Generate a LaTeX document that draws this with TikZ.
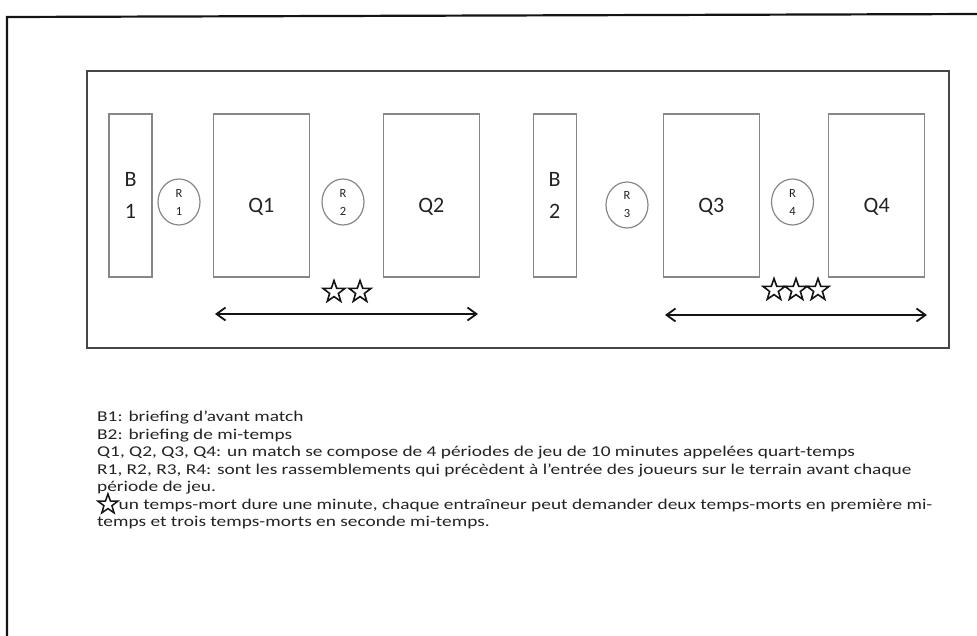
\documentclass[tikz,border=0pt]{standalone}
\usepackage{fontspec}
\setmainfont{Carlito}
\newfontfamily\keyfont{Carlito}[FakeStretch=1.29]
\usetikzlibrary{arrows.meta,shapes.geometric}
\definecolor{ink}{RGB}{20,20,20}
\definecolor{txt}{RGB}{35,35,35}
\definecolor{frame}{RGB}{70,70,70}
\definecolor{boxline}{RGB}{135,135,135}

\begin{document}
\begin{tikzpicture}[
  x=1pt, y=-1pt,
  font=\fontsize{22}{32}\selectfont,
  period/.style={draw=boxline, line width=1.3pt, minimum height=163pt, inner sep=0pt, align=center,
    text=txt, execute at begin node={\rule{0pt}{36pt}}},
  quarter/.style={period, minimum width=96pt},
  brief/.style={period, minimum width=43pt},
  gather/.style={ellipse, draw=boxline, line width=1.2pt, minimum width=42pt, minimum height=46pt, inner sep=0pt,
    align=center, text=txt, font=\fontsize{12.5}{18}\selectfont},
  pause/.style={star, star points=5, star point ratio=2.5, draw=ink, fill=white, line width=1.6pt, minimum size=23pt, inner sep=0pt},
  span/.style={{Straight Barb[length=9pt,width=13pt]}-{Straight Barb[length=9pt,width=13pt]}, line width=1.8pt, draw=ink},
  legend/.style={anchor=north west, align=left, inner sep=0pt, text=txt, font=\keyfont\fontsize{15}{17.5}\selectfont},
]
\useasboundingbox (0,0) rectangle (977,635);
% ---------------------------------------------------------------- frames
\draw[ink, line width=2.2pt] (7,640) -- (7,17) -- (980,14);
\draw[frame, line width=1.8pt] (87,71) rectangle (949,348);

% ---------------------------------------------------------------- periods
\node[brief]   (B1) at (130.5,195.5) {B\\1};
\node[gather]  (R1) at (179,202) {R\\1};
\node[quarter] (Q1) at (261.3,195.5) {Q1};
\node[gather]  (R2) at (343,202) {R\\2};
\node[quarter] (Q2) at (431.3,195.5) {Q2};

\node[brief]   (B2) at (554.7,195.5) {B\\2};
\node[gather]  (R3) at (627,205) {R\\3};
\node[quarter] (Q3) at (711.3,195.5) {Q3};
\node[gather]  (R4) at (792.5,202) {R\\4};
\node[quarter] (Q4) at (876.7,195.5) {Q4};

% ---------------------------------------------------------------- time-outs
\node[pause] (t1) at (334,292) {};
\node[pause] (t2) at (360,292) {};
\node[pause] (t3) at (774,290) {};
\node[pause] (t4) at (796,290) {};
\node[pause] (t5) at (818,290) {};

% ---------------------------------------------------------------- halves
\coordinate (h1a) at (215,314);
\coordinate (h1b) at (478,314);
\coordinate (h2a) at (665,315);
\coordinate (h2b) at (927,315);
\draw[span] (h1a) -- (h1b);
\draw[span] (h2a) -- (h2b);

% ---------------------------------------------------------------- legend
\node[legend] (key) at (97,411) {B1: briefing d’avant match\\
  B2: briefing de mi-temps\\
  Q1, Q2, Q3, Q4: un match se compose de 4 périodes de jeu de 10 minutes appelées quart-temps\\
  R1, R2, R3, R4: sont les rassemblements qui précèdent à l’entrée des joueurs sur le terrain avant chaque\\
  période de jeu.\\
  \smash{\tikz[baseline=-9pt]\node[pause, minimum size=21pt, line width=1.5pt]{};}un temps-mort dure une minute, chaque entraîneur peut demander deux temps-morts en première mi-\\
  temps et trois temps-morts en seconde mi-temps.};
\end{tikzpicture}
\end{document}
